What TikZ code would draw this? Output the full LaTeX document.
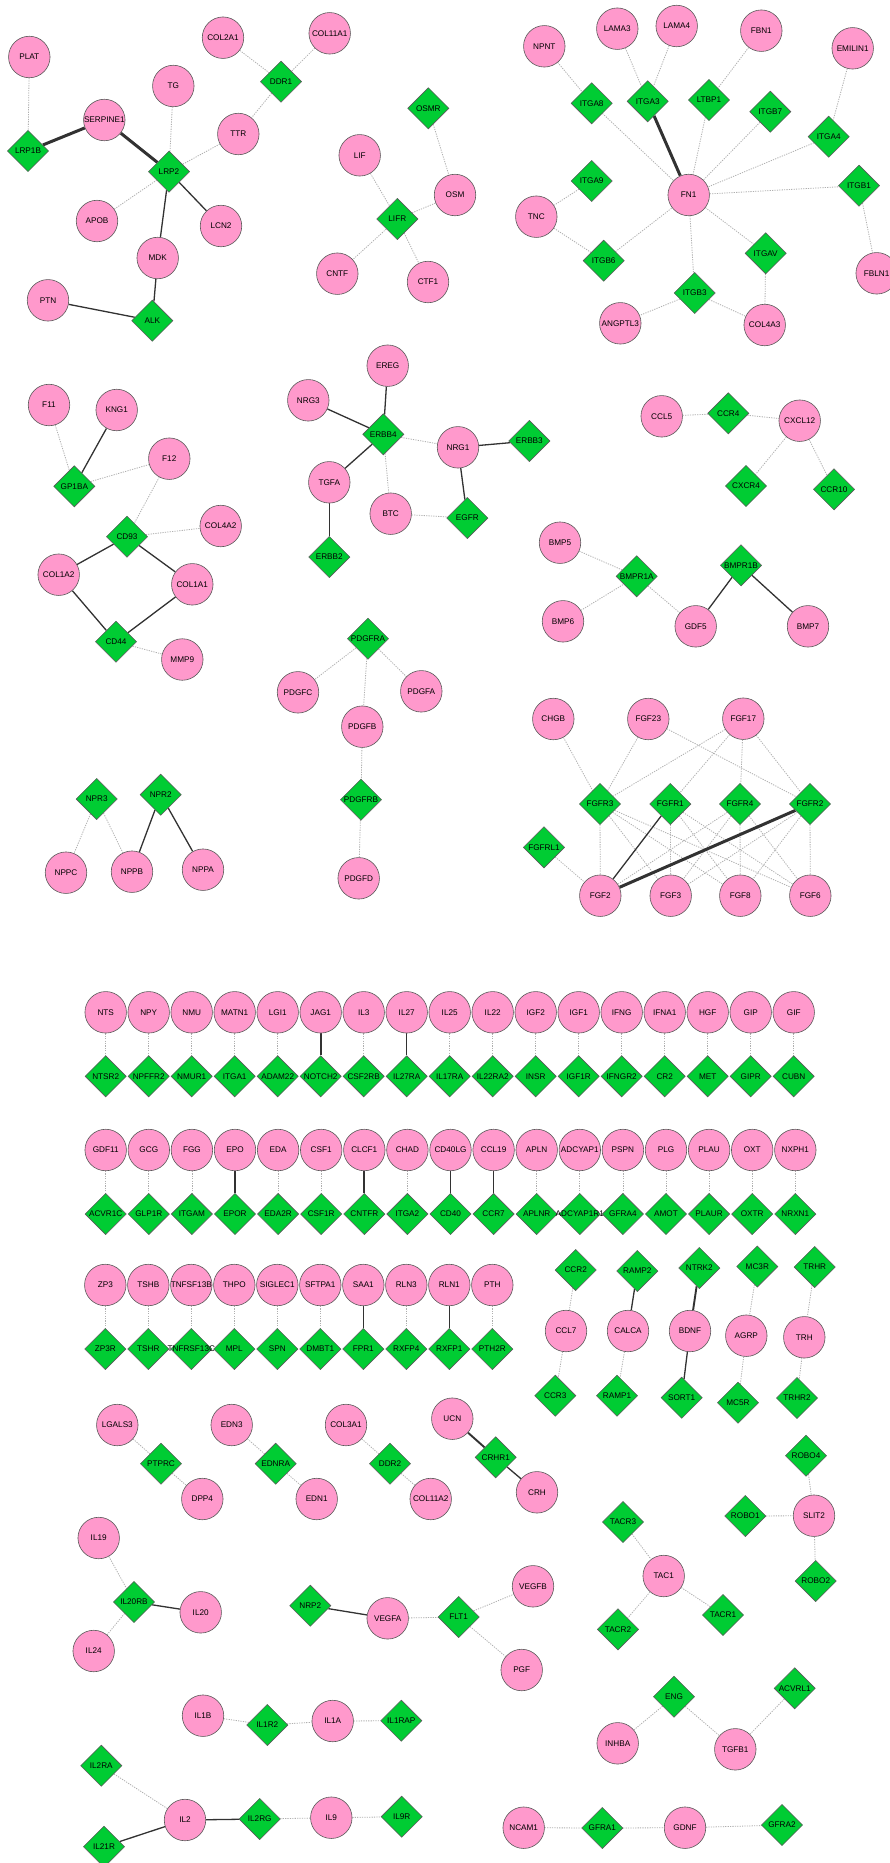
\documentclass[tikz,border=0pt]{standalone}
\usepackage{fontspec}
\setmainfont{Liberation Sans}
\usetikzlibrary{shapes.geometric}
\pgfdeclarelayer{canvas}
\pgfdeclarelayer{background}
\pgfsetlayers{canvas,background,main}
\definecolor{pinkfill}{RGB}{255,153,204}
\definecolor{greenfill}{RGB}{0,204,51}
\definecolor{nodeborder}{RGB}{90,90,90}
\definecolor{dotcol}{RGB}{175,175,175}
\definecolor{solcol}{RGB}{50,50,50}
\tikzset{
  cn/.style={circle, draw=nodeborder, line width=0.6pt, fill=pinkfill, minimum size=41.5pt, inner sep=0pt, font=\fontsize{8.2}{9}\selectfont},
  dn/.style={diamond, draw=nodeborder, line width=0.6pt, fill=greenfill, minimum width=41.3pt, minimum height=41.3pt, inner sep=0pt, font=\fontsize{8.2}{9}\selectfont},
  dt/.style={draw=dotcol, line width=0.8pt, dash pattern=on 1.2pt off 1.2pt},
  sl/.style={draw=solcol, line width=1.3pt},
  sm/.style={draw=solcol, line width=1.9pt},
  tk/.style={draw=solcol, line width=3pt}
}
\newcommand\Cir[2]{\node[cn] (#1) at (#2) {\makebox[0pt]{#1}};}
\newcommand\Dia[2]{\node[dn] (#1) at (#2) {\makebox[0pt]{#1}};}
\begin{document}
\begin{tikzpicture}[x=1pt,y=-1pt]
\begin{pgfonlayer}{canvas}
\fill[white] (0,0) rectangle (889,1863);
\end{pgfonlayer}
\useasboundingbox (0,0) rectangle (889,1863);
% group LRP2
\Cir{PLAT}{29.3,57}
\Dia{LRP1B}{28,151}
\Cir{SERPINE1}{104.3,120}
\Cir{TG}{173.3,86}
\Dia{LRP2}{169,171.7}
\Cir{COL2A1}{223,37.7}
\Cir{COL11A1}{329.7,33.3}
\Dia{DDR1}{281,81.7}
\Cir{TTR}{238.3,134}
\Cir{APOB}{97,221}
\Cir{LCN2}{221,226}
\Cir{MDK}{157.7,258}
\Cir{PTN}{48,300.3}
\Dia{ALK}{152.3,320.7}
% LIFR
\Dia{OSMR}{428.3,108.3}
\Cir{LIF}{359.7,155.3}
\Dia{LIFR}{397.3,219}
\Cir{CNTF}{337.3,273.7}
\Cir{CTF1}{428,282}
\Cir{OSM}{455,195}
% FN1
\Cir{NPNT}{544.3,46.3}
\Cir{LAMA3}{617.3,28.7}
\Cir{LAMA4}{676.7,26}
\Cir{FBN1}{761.3,30.7}
\Cir{EMILIN1}{852.7,48.3}
\Dia{ITGA8}{591.7,103.3}
\Dia{ITGA3}{647.7,101.3}
\Dia{LTBP1}{709,100}
\Dia{ITGB7}{770.3,111.7}
\Dia{ITGA4}{828.7,136.7}
\Dia{ITGA9}{591.7,181}
\Cir{FN1}{688.7,195}
\Dia{ITGB1}{859,185.7}
\Cir{TNC}{536.3,216.7}
\Dia{ITGB6}{603.7,260.7}
\Dia{ITGAV}{765.7,253.3}
\Cir{FBLN1}{876.7,273.3}
\Dia{ITGB3}{694.7,293}
\Cir{ANGPTL3}{620.3,323.3}
\Cir{COL4A3}{764.7,325}
% CD93
\Cir{F11}{49,405}
\Cir{KNG1}{116.7,410}
\Dia{GP1BA}{74.3,486.3}
\Cir{F12}{169.3,458.7}
\Dia{CD93}{127,536.7}
\Cir{COL4A2}{220.7,526}
\Cir{COL1A2}{58.7,574.7}
\Cir{COL1A1}{192.3,584.3}
\Dia{CD44}{116,641.7}
\Cir{MMP9}{182.3,659.5}
% ERBB
\Cir{NRG3}{308.3,400.3}
\Cir{EREG}{387.7,365.7}
\Dia{ERBB4}{383.3,434.3}
\Cir{TGFA}{329.3,482.3}
\Cir{BTC}{390.7,513.7}
\Dia{ERBB2}{329.3,557}
\Cir{NRG1}{458,447.3}
\Dia{ERBB3}{529.3,441}
\Dia{EGFR}{467.3,518}
% CXCL12
\Cir{CCL5}{661.7,416.3}
\Dia{CCR4}{728.3,413.3}
\Cir{CXCL12}{799.7,420.7}
\Dia{CXCR4}{746,486}
\Dia{CCR10}{834,489.3}
% BMP
\Cir{BMP5}{560,542.7}
\Dia{BMPR1A}{636.7,576.3}
\Dia{BMPR1B}{741,565.3}
\Cir{BMP6}{563,621.3}
\Cir{GDF5}{695.7,626.3}
\Cir{BMP7}{808,626.3}
% PDGF
\Dia{PDGFRA}{368,638.7}
\Cir{PDGFC}{298,692.3}
\Cir{PDGFA}{421.3,691.3}
\Cir{PDGFB}{362.3,726.7}
\Dia{PDGFRB}{361,799.7}
\Cir{PDGFD}{358.7,878.3}
% NPR
\Dia{NPR3}{96.7,799}
\Dia{NPR2}{160.7,794.7}
\Cir{NPPC}{66,872.7}
\Cir{NPPB}{132,871.7}
\Cir{NPPA}{203,869.7}
% FGF
\Cir{CHGB}{553.3,719}
\Cir{FGF23}{648.3,719}
\Cir{FGF17}{743.3,718.7}
\Dia{FGFR3}{600,804}
\Dia{FGFR1}{670.3,804}
\Dia{FGFR4}{740,804}
\Dia{FGFR2}{810,804}
\Dia{FGFRL1}{544,847.3}
\Cir{FGF2}{600.3,895.7}
\Cir{FGF3}{670.7,895.7}
\Cir{FGF8}{740.3,895.7}
\Cir{FGF6}{810.3,895.7}
% rows
\foreach \c/\d/\s [count=\i from 0] in {NTS/NTSR2/dt, NPY/NPFFR2/dt, NMU/NMUR1/dt, MATN1/ITGA1/dt, LGI1/ADAM22/dt, JAG1/NOTCH2/sm, IL3/CSF2RB/dt, IL27/IL27RA/sl, IL25/IL17RA/dt, IL22/IL22RA2/dt, IGF2/INSR/dt, IGF1/IGF1R/dt, IFNG/IFNGR2/dt, IFNA1/CR2/dt, HGF/MET/dt, GIP/GIPR/dt, GIF/CUBN/dt}{
  \node[cn] (\c) at ({105.7+43*\i},1012.3) {\makebox[0pt]{\c}};
  \node[dn] (\d) at ({105.7+43*\i},1076.3) {\makebox[0pt]{\d}};
  \begin{pgfonlayer}{background}\draw[\s] (\c) -- (\d);\end{pgfonlayer}
}
\foreach \c/\d/\s [count=\i from 0] in {GDF11/ACVR1C/dt, GCG/GLP1R/dt, FGG/ITGAM/dt, EPO/EPOR/sl, EDA/EDA2R/dt, CSF1/CSF1R/dt, CLCF1/CNTFR/sm, CHAD/ITGA2/dt, CD40LG/CD40/sl, CCL19/CCR7/sl, APLN/APLNR/dt, ADCYAP1/ADCYAP1R1/dt, PSPN/GFRA4/dt, PLG/AMOT/dt, PLAU/PLAUR/dt, OXT/OXTR/dt, NXPH1/NRXN1/dt}{
  \node[cn] (\c) at ({105.7+43.1*\i},1150) {\makebox[0pt]{\c}};
  \node[dn] (\d) at ({105.7+43.1*\i},1214) {\makebox[0pt]{\d}};
  \begin{pgfonlayer}{background}\draw[\s] (\c) -- (\d);\end{pgfonlayer}
}
\foreach \c/\d/\s [count=\i from 0] in {ZP3/ZP3R/dt, TSHB/TSHR/dt, TNFSF13B/TNFRSF13C/dt, THPO/MPL/dt, SIGLEC1/SPN/dt, SFTPA1/DMBT1/dt, SAA1/FPR1/sl, RLN3/RXFP4/dt, RLN1/RXFP1/sl, PTH/PTH2R/dt}{
  \node[cn] (\c) at ({105.3+43*\i},1285) {\makebox[0pt]{\c}};
  \node[dn] (\d) at ({105.3+43*\i},1349) {\makebox[0pt]{\d}};
  \begin{pgfonlayer}{background}\draw[\s] (\c) -- (\d);\end{pgfonlayer}
}
% small groups right
\Dia{CCR2}{575.7,1270}
\Dia{RAMP2}{637.3,1271}
\Dia{NTRK2}{699.3,1268}
\Dia{MC3R}{757.3,1266.5}
\Dia{TRHR}{814.7,1267}
\Cir{CCL7}{566,1331}
\Cir{CALCA}{628,1331}
\Cir{BDNF}{690,1331}
\Cir{AGRP}{746.3,1335.7}
\Cir{TRH}{804.3,1337.3}
\Dia{CCR3}{555.3,1395.7}
\Dia{RAMP1}{617,1395.7}
\Dia{SORT1}{681.7,1397.7}
\Dia{MC5R}{738,1402.7}
\Dia{TRHR2}{797,1398}
\Cir{UCN}{452.3,1418.7}
\Dia{CRHR1}{495.7,1457.3}
\Cir{CRH}{537,1492.3}
\Dia{ROBO4}{806,1455.7}
\Dia{ROBO1}{745.3,1516}
\Cir{SLIT2}{814,1515.7}
\Dia{ROBO2}{815.7,1581}
\Dia{TACR3}{623,1522}
\Cir{TAC1}{663.7,1576}
\Dia{TACR2}{618,1629.3}
\Dia{TACR1}{723,1615}
% triples
\Cir{LGALS3}{117.3,1425}
\Dia{PTPRC}{161,1463.7}
\Cir{DPP4}{202.3,1499}
\Cir{EDN3}{231.7,1425}
\Dia{EDNRA}{275.7,1463.7}
\Cir{EDN1}{316.7,1499}
\Cir{COL3A1}{346,1425}
\Dia{DDR2}{390,1463.7}
\Cir{COL11A2}{430.7,1499}
% IL20
\Cir{IL19}{98.7,1538}
\Dia{IL20RB}{134,1602}
\Cir{IL20}{200.7,1612.3}
\Cir{IL24}{93.7,1651}
% VEGF
\Dia{NRP2}{310.3,1605.7}
\Cir{VEGFA}{387.7,1618.3}
\Dia{FLT1}{458.7,1617}
\Cir{VEGFB}{533,1586.3}
\Cir{PGF}{521.7,1670}
% IL1
\Cir{IL1B}{203,1715.7}
\Dia{IL1R2}{267.3,1725}
\Cir{IL1A}{332.7,1721}
\Dia{IL1RAP}{401.3,1720.7}
% IL2
\Dia{IL2RA}{101.3,1765.7}
\Cir{IL2}{185,1820}
\Dia{IL21R}{104,1846.7}
\Dia{IL2RG}{259.7,1819}
\Cir{IL9}{331.3,1817.7}
\Dia{IL9R}{401.7,1816.7}
% ENG
\Dia{ENG}{674,1696.7}
\Dia{ACVRL1}{794.7,1688.3}
\Cir{INHBA}{617.7,1743.3}
\Cir{TGFB1}{735.3,1749.3}
% GDNF
\Cir{NCAM1}{523.7,1827.7}
\Dia{GFRA1}{602.3,1828}
\Cir{GDNF}{685,1827.7}
\Dia{GFRA2}{782,1825}
\begin{pgfonlayer}{background}
\foreach \a/\b in {PLAT/LRP1B, TG/LRP2, TTR/LRP2, APOB/LRP2, COL2A1/DDR1, COL11A1/DDR1, DDR1/TTR,
  OSMR/OSM, LIF/LIFR, LIFR/OSM, LIFR/CNTF, LIFR/CTF1,
  NPNT/ITGA8, ITGA8/FN1, LAMA3/ITGA3, LAMA4/ITGA3, FBN1/LTBP1, LTBP1/FN1, ITGB7/FN1, EMILIN1/ITGA4, ITGA4/FN1, FN1/ITGB1, ITGB1/FBLN1, ITGA9/TNC, TNC/ITGB6, ITGB6/FN1, FN1/ITGAV, ITGAV/COL4A3, FN1/ITGB3, ITGB3/ANGPTL3, ITGB3/COL4A3,
  F11/GP1BA, GP1BA/F12, F12/CD93, CD93/COL4A2, CD44/MMP9,
  ERBB4/NRG1, ERBB4/BTC, BTC/EGFR,
  CCL5/CCR4, CCR4/CXCL12, CXCL12/CXCR4, CXCL12/CCR10,
  BMP5/BMPR1A, BMP6/BMPR1A, BMPR1A/GDF5,
  PDGFRA/PDGFC, PDGFRA/PDGFB, PDGFRA/PDGFA, PDGFB/PDGFRB, PDGFRB/PDGFD,
  NPR3/NPPC, NPR3/NPPB,
  CHGB/FGFR3, FGF23/FGFR3, FGF23/FGFR2, FGF17/FGFR3, FGF17/FGFR1, FGF17/FGFR4, FGF17/FGFR2, FGFRL1/FGF2,
  FGFR3/FGF2, FGFR3/FGF3, FGFR3/FGF8, FGFR3/FGF6, FGFR1/FGF3, FGFR1/FGF8, FGFR1/FGF6,
  FGFR4/FGF2, FGFR4/FGF3, FGFR4/FGF8, FGFR4/FGF6, FGFR2/FGF3, FGFR2/FGF8, FGFR2/FGF6,
  CCR2/CCL7, CCL7/CCR3, CALCA/RAMP1, MC3R/AGRP, AGRP/MC5R, TRHR/TRH, TRH/TRHR2,
  ROBO4/SLIT2, ROBO1/SLIT2, SLIT2/ROBO2, TACR3/TAC1, TAC1/TACR2, TAC1/TACR1,
  LGALS3/PTPRC, PTPRC/DPP4, EDN3/EDNRA, EDNRA/EDN1, COL3A1/DDR2, DDR2/COL11A2,
  IL19/IL20RB, IL20RB/IL24, VEGFA/FLT1, FLT1/VEGFB, FLT1/PGF,
  IL1B/IL1R2, IL1R2/IL1A, IL1A/IL1RAP, IL2RA/IL2, IL2RG/IL9, IL9/IL9R,
  ENG/INHBA, ENG/TGFB1, TGFB1/ACVRL1, NCAM1/GFRA1, GFRA1/GDNF, GDNF/GFRA2}
  \draw[dt] (\a) -- (\b);
\foreach \a/\b in {LRP2/LCN2, LRP2/MDK, MDK/ALK, PTN/ALK,
  KNG1/GP1BA, CD93/COL1A2, CD93/COL1A1, COL1A2/CD44, COL1A1/CD44,
  NRG3/ERBB4, EREG/ERBB4, ERBB4/TGFA, TGFA/ERBB2, NRG1/ERBB3, NRG1/EGFR,
  BMPR1B/GDF5, BMPR1B/BMP7, NPR2/NPPB, NPR2/NPPA, FGFR1/FGF2,
  RAMP2/CALCA, BDNF/SORT1, CRHR1/CRH,
  IL20RB/IL20, NRP2/VEGFA, IL21R/IL2, IL2/IL2RG}
  \draw[sl] (\a) -- (\b);
\foreach \a/\b in {LRP1B/SERPINE1, SERPINE1/LRP2, ITGA3/FN1, FGFR2/FGF2}
  \draw[tk] (\a) -- (\b);
\foreach \a/\b in {NTRK2/BDNF, UCN/CRHR1}
  \draw[sm] (\a) -- (\b);
\end{pgfonlayer}
\end{tikzpicture}
\end{document}
